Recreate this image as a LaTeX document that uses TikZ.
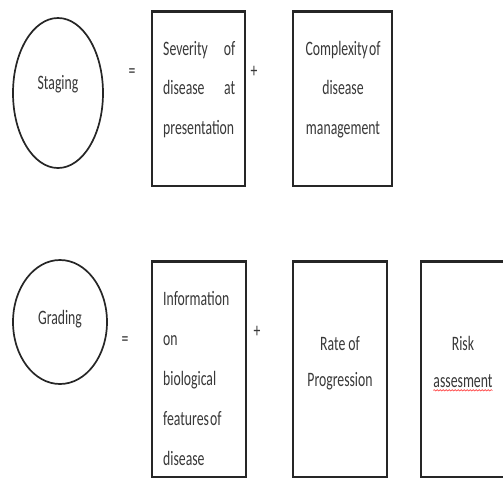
\documentclass[tikz,border=0pt]{standalone}
\usepackage{fontspec}
\setmainfont{Carlito}[FakeStretch=0.67]
\usetikzlibrary{shapes.geometric,decorations.pathmorphing}

\tikzset{
  lbl/.style={font=\fontsize{20.5}{24}\selectfont, text=black!78, inner sep=0pt, anchor=base},
  lblw/.style={lbl, anchor=base west},
  oval/.style={ellipse, draw=black!85, line width=1.7pt, inner sep=0pt},
  panel/.style={rectangle, draw=black!85, line width=1.5pt, inner sep=0pt},
  heavytop/.style={draw=black!85, line width=3pt},
  spellmark/.style={draw=red!75, line width=0.6pt, decorate,
    decoration={snake, amplitude=0.7pt, segment length=3pt}}
}

\begin{document}
\begin{tikzpicture}[x=1pt, y=-1pt]
  \useasboundingbox (0,0) rectangle (503,479);
  \clip (0,0) rectangle (503,479);

  % ---------- Staging row ----------
  \node[oval, minimum width=90pt, minimum height=150pt] (stagingO) at (58,93) {};
  \node[lbl] (stagingT) at (58,89) {Staging};
  \node[lbl] (eqA) at (132,77) {=};

  \node[panel, minimum width=93pt, minimum height=174pt] (boxSev) at (198.5,99) {};
  \draw[heavytop] (boxSev.north west) -- (boxSev.north east);
  \node[lblw, text width=72pt] (sevA) at (163,55) {Severity\hfill of};
  \node[lblw, text width=72pt] (sevB) at (163,94) {disease\hfill at};
  \node[lblw] (sevC) at (163,134) {presentation};

  \node[lbl] (plusA) at (254,77) {+};

  \node[panel, minimum width=99pt, minimum height=174pt] (boxCom) at (342.5,99) {};
  \draw[heavytop] (boxCom.north west) -- (boxCom.north east);
  \node[lbl] (comA) at (343,55) {Complexity\hspace{-2pt} of};
  \node[lbl] (comB) at (343,94) {disease};
  \node[lbl] (comC) at (343,134) {management};

  % ---------- Grading row ----------
  \node[oval, minimum width=94pt, minimum height=124pt] (gradingO) at (60,322) {};
  \node[lbl] (gradingT) at (60,324) {Grading};
  \node[lbl] (eqB) at (125,345) {=};

  \node[panel, minimum width=94pt, minimum height=215pt] (boxInf) at (199,369.5) {};
  \draw[heavytop] (boxInf.north west) -- (boxInf.north east);
  \node[lblw] (infA) at (163,305) {Information};
  \node[lblw] (infB) at (163,345) {on};
  \node[lblw] (infC) at (163,385) {biological};
  \node[lblw] (infD) at (163,425) {features\hspace{-2pt} of};
  \node[lblw] (infE) at (163,465) {disease};

  \node[lbl] (plusB) at (257,337) {+};

  \node[panel, minimum width=94pt, minimum height=215pt] (boxRate) at (340,369.5) {};
  \draw[heavytop] (boxRate.north west) -- (boxRate.north east);
  \node[lbl] (rateA) at (340,350) {Rate of};
  \node[lbl] (rateB) at (340,386) {Progression};

  \node[panel, minimum width=94pt, minimum height=215pt] (boxRisk) at (468,369.5) {};
  \draw[heavytop] (boxRisk.north west) -- (boxRisk.north east);
  \node[lbl] (riskA) at (463,350) {Risk};
  \node[lbl] (riskB) at (463,387) {assesment};
  \draw[spellmark] ([yshift=-3pt]riskB.south west) -- ([yshift=-3pt]riskB.south east);
\end{tikzpicture}
\end{document}
